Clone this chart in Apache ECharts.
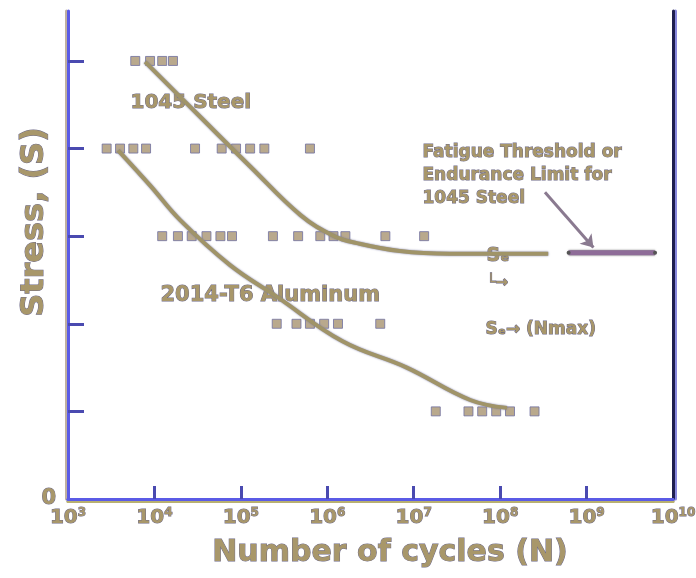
<!DOCTYPE html>
<html><head><meta charset="utf-8">
<script src="https://cdn.jsdelivr.net/npm/echarts@6/dist/echarts.min.js"></script>
<style>html,body{margin:0;padding:0;background:#fff}#c{width:696px;height:578px}</style>
</head><body><div id="c"></div>
<script>
// ---- data ----
const xTickExponents = [3, 4, 5, 6, 7, 8, 9, 10];
const yTickValues = [1, 2, 3, 4, 5];
// 1045 Steel S-N curve [N cycles, stress]
const steelN = [7.8e3, 3.4e4, 1.3e5, 4.9e5, 1.2e6, 2.2e6, 6.9e6, 2.6e7, 3.6e8];
const steelS = [4.99, 4.36, 3.79, 3.24, 3.00, 2.92, 2.83, 2.80, 2.80];
// 2014-T6 Aluminum S-N curve
const aluN = [3.8e3, 8.9e3, 2.0e4, 7.5e4, 2.6e5, 1.5e6, 8.3e6, 4.5e7, 1.2e8];
const aluS = [3.98, 3.58, 3.18, 2.67, 2.31, 1.80, 1.50, 1.13, 1.04];
// endurance limit for 1045 steel
const enduranceN = [6.2e8, 6.2e9];
const enduranceS = [2.81, 2.81];
// scattered square markers along stress levels
const sqN = [6.0e3, 8.9e3, 1.23e4, 1.64e4,
  2.8e3, 4.0e3, 5.7e3, 8.0e3, 2.95e4, 6.0e4, 8.8e4, 1.28e5, 1.87e5, 6.3e5,
  1.23e4, 1.87e4, 2.7e4, 4.0e4, 5.8e4, 7.9e4, 2.35e5, 4.6e5, 8.3e5, 1.18e6, 1.62e6, 4.7e6, 1.32e7,
  2.6e5, 4.4e5, 6.3e5, 9.2e5, 1.33e6, 4.1e6,
  1.8e7, 4.3e7, 6.2e7, 9.0e7, 1.3e8, 2.5e8];
const sqS = [5, 5, 5, 5,
  4, 4, 4, 4, 4, 4, 4, 4, 4, 4,
  3, 3, 3, 3, 3, 3, 3, 3, 3, 3, 3, 3, 3,
  2, 2, 2, 2, 2, 2,
  1, 1, 1, 1, 1, 1];
// arrow pointing to endurance limit
const arrowN = [3.3e8, 1.2e9];
const arrowS = [3.50, 2.87];

const zip = (a, b) => a.map((v, i) => [v, b[i]]);
const TXT = '#a8976a', TXB = '#6e6a88';
const txt = (s, x, y, size, extra) => ({
  type: 'text', left: x, top: y,
  style: Object.assign({ text: s, font: 'bold ' + size + 'px "DejaVu Sans"', fill: TXT, stroke: TXB, lineWidth: 1 }, extra || {})
});

const chart = echarts.init(document.getElementById('c'));
chart.setOption({
  animation: false,
  grid: { left: 68, right: 23, top: 11, bottom: 79, containLabel: false, outerBoundsMode: 'none' },
  xAxis: [{
    type: 'log', logBase: 10, min: 1e3, max: 1e10,
    axisLine: { lineStyle: { color: '#5b5be6', width: 3, shadowColor: '#b8b0a0', shadowOffsetY: 2 } },
    axisTick: { inside: true, length: 13, lineStyle: { color: '#4a4ab0', width: 3 },
      customValues: xTickExponents.slice(1, -1).map(e => Math.pow(10, e)) },
    splitLine: { show: false }, minorTick: { show: false },
    axisLabel: {
      margin: 8,
      customValues: xTickExponents.map(e => Math.pow(10, e)),
      formatter: v => '{b|10}{s|' + Math.round(Math.log10(v)) + '}',
      rich: {
        b: { fontFamily: 'DejaVu Sans', fontWeight: 'bold', fontSize: 20, color: TXT, textBorderColor: TXB, textBorderWidth: 1 },
        s: { fontFamily: 'DejaVu Sans', fontWeight: 'bold', fontSize: 12, color: TXT, textBorderColor: TXB, textBorderWidth: 1, verticalAlign: 'top', padding: [0, 0, 10, 0] }
      }
    }
  }, {
    type: 'log', logBase: 10, min: 1e3, max: 1e10, position: 'top',
    axisLine: { lineStyle: { color: '#5b5be6', width: 3, shadowColor: '#b8b070', shadowOffsetY: 2 } },
    axisTick: { show: false }, axisLabel: { show: false }, splitLine: { show: false }
  }],
  yAxis: [{
    type: 'value', min: 0, max: 5.57, interval: 1,
    axisLine: { show: true, lineStyle: { color: '#5b5be6', width: 3, shadowColor: '#c0b0a0', shadowOffsetX: -2 } },
    axisTick: { inside: true, length: 16, lineStyle: { color: '#4a4ab0', width: 3 }, customValues: yTickValues },
    splitLine: { show: false },
    axisLabel: {
      margin: 12, customValues: [0], formatter: v => (v === 0 ? '0' : ''), verticalAlign: 'middle', padding: [0, 0, 12, 0],
      fontFamily: 'DejaVu Sans', fontWeight: 'bold', fontSize: 21, color: TXT, textBorderColor: TXB, textBorderWidth: 1
    }
  }, {
    type: 'value', min: 0, max: 5.57, position: 'right',
    axisLine: { show: true, lineStyle: { color: '#1e1e50', width: 3, shadowColor: '#8888dd', shadowOffsetX: 2 } },
    axisTick: { show: false }, axisLabel: { show: false }, splitLine: { show: false }
  }],
  series: [
    {
      type: 'line', data: zip(steelN, steelS), smooth: 0.4, symbol: 'none',
      lineStyle: { color: '#a09468', width: 4, shadowColor: '#7a7aa0', shadowBlur: 2 }
    },
    {
      type: 'line', data: zip(aluN, aluS), smooth: 0.4, symbol: 'none',
      lineStyle: { color: '#a09468', width: 4, shadowColor: '#7a7aa0', shadowBlur: 2 }
    },
    {
      type: 'line', data: zip(enduranceN, enduranceS), symbol: 'circle', symbolSize: 4,
      itemStyle: { color: '#555' },
      lineStyle: { color: '#8e6c98', width: 5, shadowColor: '#666', shadowBlur: 2 }
    },
    {
      type: 'scatter', data: zip(sqN, sqS), symbol: 'rect', symbolSize: 9,
      itemStyle: { color: '#a89470', borderColor: '#7070a0', borderWidth: 1 }
    },
    {
      type: 'line', data: [], symbol: 'none',
      markLine: {
        silent: true, symbol: ['none', 'arrow'], symbolSize: 12, label: { show: false },
        lineStyle: { color: '#8a7a90', width: 3, type: 'solid' },
        data: [[{ coord: [arrowN[0], arrowS[0]] }, { coord: [arrowN[1], arrowS[1]] }]]
      }
    }
  ],
  graphic: [
    {
      type: 'text', x: 35, y: 222, rotation: Math.PI / 2,
      style: { text: 'Stress, (S)', font: 'bold 32px "DejaVu Sans"', fill: TXT, stroke: TXB, lineWidth: 1, textAlign: 'center', textVerticalAlign: 'middle' }
    },
    {
      type: 'text', x: 390, y: 553,
      style: { text: 'Number of cycles (N)', font: 'bold 30px "DejaVu Sans"', fill: TXT, stroke: TXB, lineWidth: 1, textAlign: 'center', textVerticalAlign: 'middle' }
    },
    txt('1045 Steel', 130, 92, 20),
    txt('2014-T6 Aluminum', 160, 285, 21),
    txt('Fatigue Threshold or\nEndurance Limit for\n1045 Steel', 422, 141, 17, { lineHeight: 23 }),
    txt('Sₑ', 486, 246, 19),
    txt('└→', 486, 275, 15),
    txt('Sₑ→ (Nmax)', 485, 321, 17)
  ]
});
</script></body></html>
